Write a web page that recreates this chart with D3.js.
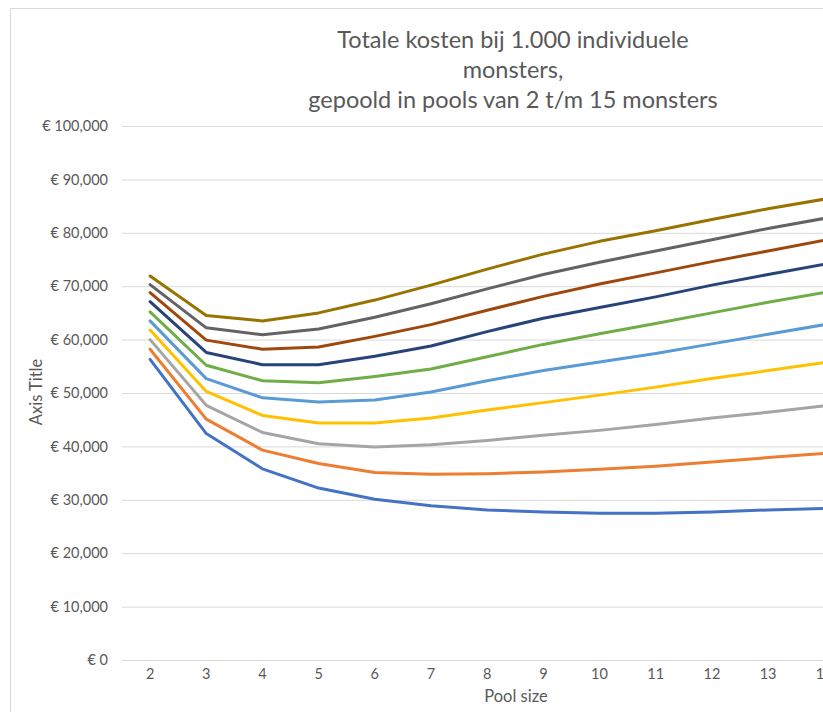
<!DOCTYPE html>
<html>
<head>
<meta charset="utf-8">
<script src="https://cdn.jsdelivr.net/npm/d3@7"></script>
<style>
  html, body { margin: 0; padding: 0; background: #fff; overflow: hidden; }
  svg { display: block; }
</style>
</head>
<body>
<svg id="chart" width="823" height="712"></svg>
<script>
// ---- data ----
const poolSizes = [2, 3, 4, 5, 6, 7, 8, 9, 10, 11, 12, 13, 14, 15];
const yTicks = [0, 10000, 20000, 30000, 40000, 50000, 60000, 70000, 80000, 90000, 100000];
const titleLines = ["Totale kosten bij 1.000 individuele", "monsters,", "gepoold in pools van 2 t/m 15 monsters"];
const xTitle = "Pool size";
const yTitle = "Axis Title";
// values for pool sizes 2..14 (15 lies outside the visible area)
const s1  = [56300, 42400, 35800, 32200, 30100, 28900, 28100, 27700, 27500, 27500, 27700, 28100, 28400];
const s2  = [58200, 45100, 39300, 36800, 35100, 34800, 34900, 35200, 35700, 36300, 37100, 37900, 38700];
const s3  = [60000, 47700, 42600, 40500, 39900, 40300, 41100, 42100, 43000, 44100, 45300, 46400, 47600];
const s4  = [61800, 50300, 45800, 44400, 44400, 45300, 46800, 48200, 49600, 51100, 52700, 54200, 55700];
const s5  = [63500, 52700, 49100, 48300, 48700, 50200, 52300, 54200, 55800, 57400, 59200, 61000, 62800];
const s6  = [65200, 55200, 52300, 51900, 53100, 54500, 56800, 59100, 61100, 63000, 65000, 67000, 68800];
const s7  = [67100, 57600, 55300, 55300, 56900, 58800, 61500, 64000, 66000, 68000, 70200, 72200, 74100];
const s8  = [68800, 59900, 58200, 58600, 60600, 62800, 65500, 68100, 70400, 72500, 74600, 76600, 78600];
const s9  = [70300, 62200, 60900, 62000, 64200, 66700, 69500, 72200, 74500, 76600, 78700, 80800, 82700];
const s10 = [71900, 64500, 63500, 65000, 67400, 70200, 73200, 76000, 78400, 80400, 82500, 84500, 86300];
const seriesValues = [s1, s2, s3, s4, s5, s6, s7, s8, s9, s10];
const seriesColors = ["#4472C4", "#ED7D31", "#A5A5A5", "#FFC000", "#5B9BD5",
                      "#70AD47", "#264478", "#9E480E", "#636363", "#997300"];

// ---- layout ----
const W = 823, H = 712;
const FONT = "Lato, 'Open Sans', 'Liberation Sans', sans-serif";
const textColor = "#595959";
const gridColor = "#d9d9d9";
const plotLeft = 122, plotTop = 126, plotBottom = 660;
const band = 56.18;

const svg = d3.select("#chart");
svg.append("rect").attr("width", W).attr("height", H).attr("fill", "#fff");

// chart frame (only top and left visible)
svg.append("path")
  .attr("d", `M10.5,${H} V8.5 H${W}`)
  .attr("fill", "none").attr("stroke", gridColor).attr("stroke-width", 1);

const x = d3.scaleBand().domain(poolSizes).range([plotLeft, plotLeft + band * poolSizes.length]).padding(0);
const y = d3.scaleLinear().domain([0, 100000]).range([plotBottom, plotTop]);

// gridlines + y labels
const yAxis = d3.axisLeft(y).tickValues(yTicks)
  .tickSize(-(x.range()[1] - plotLeft))
  .tickPadding(14)
  .tickFormat(d => "€ " + d3.format(",")(d));
const gy = svg.append("g").attr("transform", `translate(${plotLeft},0)`).call(yAxis);
gy.select(".domain").remove();
gy.selectAll(".tick line").attr("stroke", gridColor).attr("stroke-width", 1);
gy.selectAll(".tick text").attr("fill", textColor).style("font-family", FONT).style("font-size", "14.5px");

// x axis
const xAxis = d3.axisBottom(x).tickSize(0).tickPadding(9);
const gx = svg.append("g").attr("transform", `translate(0,${plotBottom})`).call(xAxis);
gx.select(".domain").attr("stroke", gridColor);
gx.selectAll(".tick text").attr("fill", textColor).style("font-family", FONT).style("font-size", "14.5px");

// lines
const line = d3.line()
  .x((d, i) => x(poolSizes[i]) + x.bandwidth() / 2)
  .y(d => y(d));
svg.append("g").selectAll("path").data(seriesValues).join("path")
  .attr("d", d => line(d))
  .attr("fill", "none")
  .attr("stroke", (d, i) => seriesColors[i])
  .attr("stroke-width", 3)
  .attr("stroke-linejoin", "round")
  .attr("stroke-linecap", "round");

// title
svg.append("g").selectAll("text").data(titleLines).join("text")
  .attr("x", 513).attr("y", (d, i) => 48 + i * 30)
  .attr("text-anchor", "middle")
  .attr("fill", textColor)
  .style("font-family", FONT).style("font-size", "23.5px")
  .text(d => d);

// axis titles
svg.append("text").attr("x", 516).attr("y", 702)
  .attr("text-anchor", "middle").attr("fill", textColor)
  .style("font-family", FONT).style("font-size", "16.5px").text(xTitle);
svg.append("text").attr("transform", "translate(42,392) rotate(-90)")
  .attr("text-anchor", "middle").attr("fill", textColor)
  .style("font-family", FONT).style("font-size", "16.5px").text(yTitle);
</script>
</body>
</html>
